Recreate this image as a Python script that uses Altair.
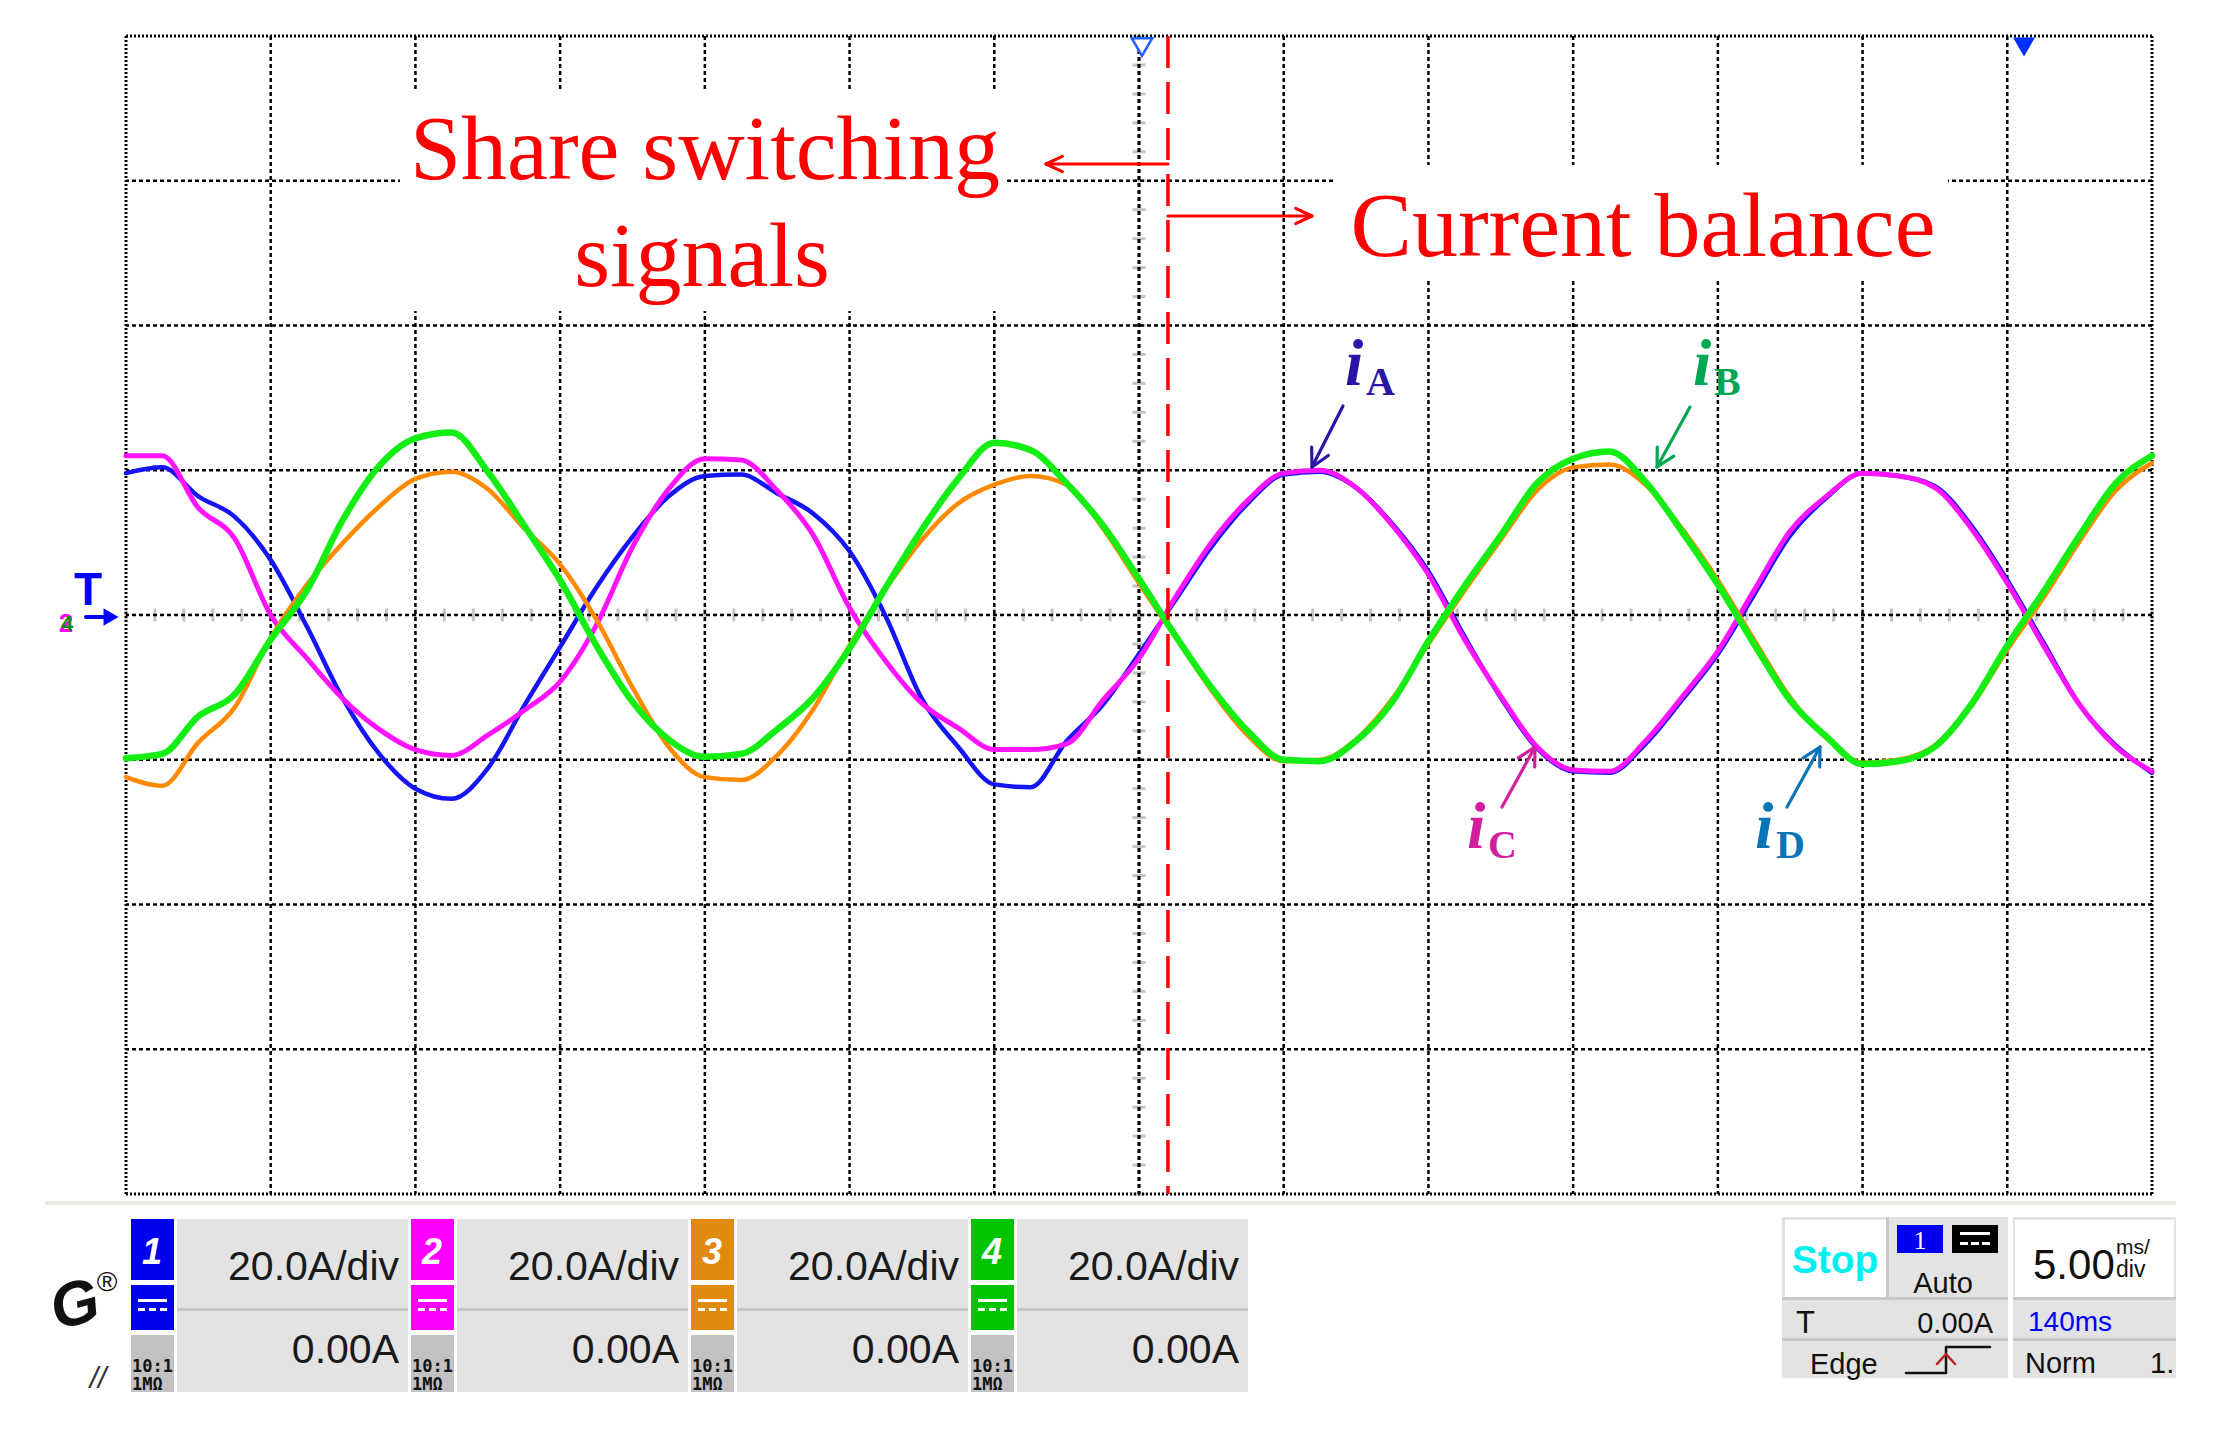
import math
import altair as alt
import pandas as pd

# ---------------- data ----------------
# time axis: 5 ms/div, 14 div ; current: 20 A/div, +-4 div
time_ms = [0, 1.25, 2.5, 3.75, 5, 6.25, 7.5, 8.75, 10, 11.25, 12.5, 13.75, 15,
           16.25, 17.5, 18.75, 20, 21.25, 22.5, 23.75, 25, 26.25, 27.5, 28.75,
           30, 31.25, 32.5, 33.75, 35, 36.25, 37.5, 38.75, 40, 41.25, 42.5,
           43.75, 45, 46.25, 47.5, 48.75, 50, 51.25, 52.5, 53.75, 55, 56.25,
           57.5, 58.75, 60, 61.25, 62.5, 63.75, 65, 66.25, 67.5, 68.75, 70]

ch1_blue = [19.6, 20.4, 16.4, 13.6, 7.6, -1.6, -11.6, -19.2, -24.0, -25.4,
            -21.2, -12.6, -4.4, 3.8, 10.8, 16.4, 19.2, 19.4, 16.8, 14.0,
            8.8, -0.2, -11.6, -18.2, -23.4, -23.8, -17.4, -12.4, -5.4, 2.0,
            9.4, 15.4, 19.4, 19.8, 17.6, 12.6, 6.0, -3.0, -11.4, -18.4,
            -21.6, -21.8, -17.8, -11.8, -5.4, 2.8, 11.0, 16.2, 19.6, 19.2,
            17.8, 12.4, 4.8, -3.8, -12.4, -18.0, -21.8]
ch2_pink = [22.0, 22.0, 14.8, 10.6, 0.0, -6.0, -11.6, -15.8, -18.6, -19.4,
            -16.6, -13.2, -9.2, -1.4, 9.4, 17.4, 21.6, 21.4, 17.2, 11.0,
            1.0, -6.4, -12.2, -15.6, -18.6, -18.6, -17.8, -11.8, -6.0, 2.4,
            10.0, 15.8, 19.6, 20.0, 17.6, 12.4, 5.6, -3.4, -11.2, -18.2,
            -21.4, -21.6, -17.4, -11.4, -5.0, 3.4, 11.6, 16.4, 19.6, 19.2,
            17.6, 12.0, 4.4, -4.2, -12.4, -18.2, -21.6]
ch3_orange = [-22.4, -23.6, -17.6, -12.8, -3.2, 4.2, 10.0, 15.0, 18.8, 19.8,
              17.4, 12.0, 7.0, -0.6, -10.0, -18.2, -22.4, -22.8, -19.4, -13.0,
              -4.2, 3.6, 10.4, 15.4, 18.0, 19.2, 18.0, 12.0, 4.4, -3.0,
              -10.4, -16.6, -20.2, -20.0, -17.2, -11.6, -4.0, 3.4, 10.4, 17.2,
              20.4, 20.8, 18.0, 12.0, 4.8, -3.4, -11.4, -17.0, -20.4, -20.0,
              -18.0, -12.6, -4.8, 2.4, 10.2, 17.2, 21.0]
ch4_green = [-19.8, -19.2, -14.0, -11.0, -3.4, 3.4, 13.2, 20.6, 24.4, 25.2,
             19.8, 12.4, 4.8, -4.2, -12.0, -17.2, -19.6, -19.2, -15.8, -11.4,
             -4.6, 3.8, 11.8, 18.8, 23.8, 22.8, 18.2, 12.4, 5.0, -2.8,
             -10.0, -16.0, -20.0, -20.2, -17.4, -12.0, -3.6, 4.0, 11.0, 18.2,
             21.6, 22.6, 18.4, 11.6, 4.2, -4.0, -11.8, -16.8, -20.6, -20.2,
             -18.2, -12.4, -4.2, 3.2, 11.0, 18.2, 22.0]

balance_ms = [36.0]
trigger_ms = [35]
grid_ms = [5, 10, 15, 20, 25, 30, 40, 45, 50, 55, 60, 65]
grid_amp = [-60, -40, -20, 0, 20, 40, 60]
border_ms = [0, 70]
border_amp = [-80, 80]
channel_labels = ["1", "2", "3", "4"]
channel_scale = ["20.0A/div", "20.0A/div", "20.0A/div", "20.0A/div"]
channel_offset = ["0.00A", "0.00A", "0.00A", "0.00A"]

# ---------------- layout ----------------
W, H = 2026, 1158          # plot area
OX, OY = 126, 36           # page position of plot area
xs = alt.Scale(domain=[0, 70], nice=False, zero=False)
ys = alt.Scale(domain=[-80, 80], nice=False, zero=False)


def wave(vals, color, width):
    df = pd.DataFrame({"t": time_ms, "i": vals})
    return alt.Chart(df).mark_line(color=color, strokeWidth=width, interpolate="monotone",
                                   strokeJoin="round", strokeCap="round").encode(
        x=alt.X("t:Q", scale=xs, axis=None), y=alt.Y("i:Q", scale=ys, axis=None))


def rects(rows):
    df = pd.DataFrame([{"x": a - OX, "x2": c - OX, "y": b - OY, "y2": d - OY, "f": f}
                       for a, b, c, d, f in rows])
    return alt.Chart(df).mark_rect().encode(
        x=alt.X("x:Q", scale=None), x2="x2:Q", y=alt.Y("y:Q", scale=None), y2="y2:Q",
        color=alt.Color("f:N", scale=None))


def txt(x, y, s, size, color="#111111", font="Liberation Sans", weight="normal",
        style="normal", align="left", angle=0):
    kw = dict(fontSize=size, color=color, font=font, fontWeight=weight, fontStyle=style,
              align=align, baseline="alphabetic")
    if angle:
        kw["angle"] = angle
    return alt.Chart(pd.DataFrame({"s": [s]})).mark_text(**kw).encode(
        x=alt.value(x - OX), y=alt.value(y - OY), text="s:N")


def polys(groups, width):
    recs = []
    for gid, col, pts in groups:
        for k, (x, y) in enumerate(pts):
            recs.append({"g": gid, "c": col, "k": k, "x": x - OX, "y": y - OY})
    return alt.Chart(pd.DataFrame(recs)).mark_line(strokeWidth=width, strokeCap="round",
                                                   strokeJoin="round").encode(
        x=alt.X("x:Q", scale=None), y=alt.Y("y:Q", scale=None), detail="g:N",
        color=alt.Color("c:N", scale=None), order="k:Q")


def arrow(gid, col, x0, y0, x1, y1, head=20, ang=28):
    dx, dy = x1 - x0, y1 - y0
    L = math.hypot(dx, dy)
    vx, vy = -dx / L, -dy / L
    a = math.radians(ang)
    p1 = (x1 + head * (vx * math.cos(a) - vy * math.sin(a)), y1 + head * (vx * math.sin(a) + vy * math.cos(a)))
    p2 = (x1 + head * (vx * math.cos(-a) - vy * math.sin(-a)), y1 + head * (vx * math.sin(-a) + vy * math.cos(-a)))
    return [(gid + "s", col, [(x0, y0), (x1, y1)]), (gid + "h", col, [p1, (x1, y1), p2])]


def point(x, y, shape, size, fill, stroke, sw=0):
    kw = dict(shape=shape, size=size, fill=fill, filled=True, opacity=1)
    if sw:
        kw.update(stroke=stroke, strokeWidth=sw)
    return alt.Chart(pd.DataFrame({"a": [0]})).mark_point(**kw).encode(
        x=alt.value(x - OX), y=alt.value(y - OY))


layers = []

# centre-line graticule ticks
tick_h = pd.DataFrame({"t": [k * 1.0 for k in range(71)], "i": [0] * 71})
layers.append(alt.Chart(tick_h).mark_tick(orient="vertical", size=13, thickness=3, color="#ABABAB").encode(
    x=alt.X("t:Q", scale=xs, axis=None), y=alt.Y("i:Q", scale=ys, axis=None)))
tick_v = pd.DataFrame({"t": [35] * 41, "i": [-80 + 4 * k for k in range(41)]})
layers.append(alt.Chart(tick_v).mark_tick(orient="horizontal", size=13, thickness=3, color="#ABABAB").encode(
    x=alt.X("t:Q", scale=xs, axis=None), y=alt.Y("i:Q", scale=ys, axis=None)))

# grid
layers.append(alt.Chart(pd.DataFrame({"t": grid_ms})).mark_rule(color="#000000", strokeWidth=2.5, strokeDash=[4, 3]).encode(
    x=alt.X("t:Q", scale=xs, axis=None)))
layers.append(alt.Chart(pd.DataFrame({"i": grid_amp})).mark_rule(color="#000000", strokeWidth=2.5, strokeDash=[4, 3]).encode(
    y=alt.Y("i:Q", scale=ys, axis=None)))
layers.append(alt.Chart(pd.DataFrame({"t": border_ms})).mark_rule(color="#000000", strokeWidth=3, strokeDash=[2, 2]).encode(
    x=alt.X("t:Q", scale=xs, axis=None)))
layers.append(alt.Chart(pd.DataFrame({"i": border_amp})).mark_rule(color="#000000", strokeWidth=3, strokeDash=[2, 2]).encode(
    y=alt.Y("i:Q", scale=ys, axis=None)))

# white boxes behind the annotation text
layers.append(rects([(400, 89, 1006, 311, "#FFFFFF"), (1334, 165, 1948, 279, "#FFFFFF")]))

# trigger-position line (centre of screen)
layers.append(alt.Chart(pd.DataFrame({"t": trigger_ms})).mark_rule(color="#000000", strokeWidth=3.2, strokeDash=[4, 3]).encode(
    x=alt.X("t:Q", scale=xs, axis=None)))

# waveforms (channel order: later channels on top)
layers.append(wave(ch1_blue, "#1414F5", 4.5))
layers.append(wave(ch2_pink, "#FF14FF", 5))
layers.append(wave(ch3_orange, "#FF8A00", 4.5))
layers.append(wave(ch4_green, "#14EE14", 6.5))

# red balance line
layers.append(alt.Chart(pd.DataFrame({"t": balance_ms})).mark_rule(color="#FF0000", strokeWidth=3.5, strokeDash=[32, 14]).encode(
    x=alt.X("t:Q", scale=xs, axis=None)))

# red annotation text + arrows
layers.append(txt(705, 179, "Share switching", 92, "#FF0000", "Liberation Serif", align="center"))
layers.append(txt(702, 286, "signals", 92, "#FF0000", "Liberation Serif", align="center"))
layers.append(txt(1643, 256, "Current balance", 92, "#FF0000", "Liberation Serif", align="center"))

arrows = []
arrows += arrow("L", "#FF0000", 1168, 164, 1046, 164, head=18, ang=25)
arrows += arrow("R", "#FF0000", 1168, 216, 1312, 216, head=18, ang=25)
arrows += arrow("A", "#2B14A8", 1343, 406, 1312, 467)
arrows += arrow("B", "#00A651", 1690, 407, 1657, 467)
arrows += arrow("C", "#D21FA0", 1502, 807, 1535, 747)
arrows += arrow("D", "#0A74B8", 1787, 807, 1820, 747)
layers.append(polys(arrows, 3.2))

# signal labels
for (ix, iy, sub, col) in [(1345, 385, "A", "#2B14A8"), (1693, 385, "B", "#00A651"),
                           (1467, 848, "C", "#D21FA0"), (1755, 848, "D", "#0A74B8")]:
    layers.append(txt(ix, iy, "i", 66, col, "Liberation Serif", "bold", "italic"))
    layers.append(txt(ix + 21, iy + 10, sub, 40, col, "Liberation Serif", "bold"))

# markers on the graticule
layers.append(point(1142, 47, "triangle-down", 420, "#FFFFFF", "#2060FF", 2.5))
layers.append(point(2024, 47, "triangle-down", 480, "#0030FF", "#0030FF"))
layers.append(polys([("tm", "#0000FF", [(86, 617), (104, 617)])], 4))
layers.append(point(111, 617, "triangle-right", 300, "#0000FF", "#0000FF"))
layers.append(txt(88, 605, "T", 46, "#0000FF", weight="bold", align="center"))
layers.append(txt(66, 632, "2", 26, "#FF00FF", weight="bold", align="center"))
layers.append(txt(67, 631, "4", 22, "#118811", weight="bold", align="center"))

# ---------------- bottom status bar ----------------
ch_colors = ["#0000F0", "#FF00FF", "#E08A10", "#00C400"]
rows = [(45, 1201, 2176, 1205, "#EAEAE2")]
for k, col in enumerate(ch_colors):
    b = 131 + 280 * k
    rows += [(b, 1219, b + 43, 1280, col), (b, 1285, b + 43, 1330, col),
             (b, 1335, b + 43, 1392, "#C2C2C2"),
             (b + 46, 1219, b + 277, 1392, "#E3E3E3"),
             (b + 46, 1308, b + 277, 1311, "#C6C6C6"),
             (b + 7, 1299, b + 36, 1302, "#FFFFFF"),
             (b + 7, 1308, b + 14, 1311, "#FFFFFF"), (b + 18, 1308, b + 25, 1311, "#FFFFFF"),
             (b + 29, 1308, b + 36, 1311, "#FFFFFF")]
rows += [(1782, 1217, 2008, 1378, "#E3E3E3"), (1785, 1220, 1886, 1297, "#FFFFFF"),
         (1886, 1217, 1889, 1297, "#C8C8C8"),
         (1897, 1225, 1943, 1253, "#0000F0"), (1952, 1225, 1998, 1253, "#000000"),
         (1960, 1232, 1990, 1235, "#FFFFFF"), (1960, 1242, 1968, 1245, "#FFFFFF"),
         (1971, 1242, 1979, 1245, "#FFFFFF"), (1982, 1242, 1990, 1245, "#FFFFFF"),
         (1782, 1297, 2008, 1300, "#C8C8C8"), (1782, 1338, 2008, 1341, "#C8C8C8"),
         (2013, 1217, 2176, 1378, "#E3E3E3"), (2015, 1220, 2174, 1297, "#FFFFFF"),
         (2013, 1297, 2176, 1300, "#C8C8C8"), (2013, 1338, 2176, 1341, "#C8C8C8")]
layers.append(rects(rows))

for k in range(4):
    b = 131 + 280 * k
    layers.append(txt(b + 21, 1264, channel_labels[k], 36, "#FFFFFF", weight="bold", style="italic", align="center"))
    layers.append(txt(b + 268, 1280, channel_scale[k], 41, "#1A1A1A", align="right"))
    layers.append(txt(b + 268, 1363, channel_offset[k], 41, "#1A1A1A", align="right"))
    layers.append(txt(b + 1, 1372, "10:1", 17, "#111111", "DejaVu Sans Mono", "bold"))
    layers.append(txt(b + 1, 1390, "1MΩ", 17, "#111111", "DejaVu Sans Mono", "bold"))

layers.append(txt(1835, 1273, "Stop", 39, "#00F0F0", weight="bold", align="center"))
layers.append(txt(1920, 1249, "1", 26, "#FFFFFF", "Liberation Serif", align="center"))
layers.append(txt(1943, 1293, "Auto", 29, align="center"))
layers.append(txt(1796, 1333, "T", 31))
layers.append(txt(1993, 1333, "0.00A", 29, align="right"))
layers.append(txt(1810, 1374, "Edge", 29))
layers.append(txt(2033, 1279, "5.00", 42))
layers.append(txt(2116, 1254, "ms/", 21))
layers.append(txt(2116, 1277, "div", 23))
layers.append(txt(2028, 1331, "140ms", 28, "#0000FF"))
layers.append(txt(2025, 1373, "Norm", 29))
layers.append(txt(2150, 1373, "1.", 29))
layers.append(polys([("e1", "#111111", [(1906, 1373), (1946, 1373), (1946, 1347), (1990, 1347)])], 2.5))
layers.append(polys([("e2", "#C02020", [(1937, 1364), (1946, 1354), (1955, 1364)])], 2.5))

# logo
layers.append(txt(80, 1324, "G", 62, "#111111", weight="bold", style="italic", align="center", angle=345))
layers.append(txt(107, 1291, "®", 28, "#111111", align="center"))
layers.append(txt(98, 1388, "//", 30, "#333333", style="italic", align="center"))

chart = alt.layer(*layers).properties(
    width=W, height=H,
    padding={"left": 118, "top": 28, "right": 70, "bottom": 225},
    autosize=alt.AutoSizeParams(type="none"),
    background="#FFFFFF",
).configure_view(strokeWidth=0)

chart.save("out.html", embed_options={"renderer": "svg", "actions": False})
